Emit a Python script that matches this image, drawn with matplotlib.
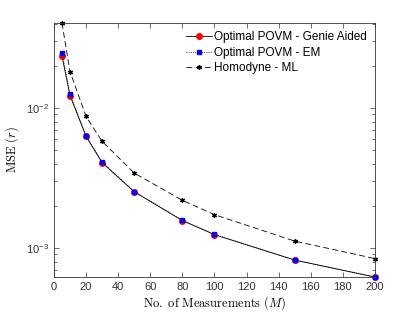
import numpy as np
import matplotlib
matplotlib.use("Agg")
import matplotlib.pyplot as plt
from matplotlib.ticker import LogLocator, NullFormatter

# ---------------- DATA ---------------- #
M = [5, 10, 20, 30, 50, 80, 100, 150, 200]
mse_genie = [0.0235, 0.01225, 0.00627, 0.00407, 0.00252, 0.00157, 0.001245, 0.00082, 0.00062]
mse_em = [0.0249, 0.0126, 0.00632, 0.00412, 0.00253, 0.00158, 0.00125, 0.00082, 0.00062]
mse_homodyne = [0.0404, 0.0182, 0.0087, 0.00578, 0.00343, 0.00219, 0.00173, 0.00112, 0.00084]

labels = ["Optimal POVM - Genie Aided", "Optimal POVM - EM", "Homodyne - ML"]

plt.rcParams["font.family"] = ["Liberation Sans", "DejaVu Sans"]
plt.rcParams["mathtext.fontset"] = "cm"

# ---------------- PLOT ---------------- #
fig = plt.figure(figsize=(4.15, 3.12), dpi=100)
ax = fig.add_axes([0.130, 0.112, 0.7736, 0.814])

ax.semilogy(M, mse_genie, "-", color="black", lw=0.6, clip_on=False,
            marker="o", ms=4, mfc="red", mec="red", label=labels[0])
ax.semilogy(M, mse_em, ":", color="black", lw=0.6, clip_on=False,
            marker="s", ms=3, mfc="blue", mec="blue", label=labels[1])
ax.semilogy(M, mse_homodyne, "--", color="black", lw=0.6, dashes=(7, 4), clip_on=False,
            marker=(6, 2, 0), ms=3.5, mew=0.9, mfc="black", mec="black", label=labels[2])

ax.set_xlim(0, 200)
ax.set_ylim(6.2e-4, 0.0404)
ax.set_xticks(np.arange(0, 201, 20))

ax.yaxis.set_major_locator(LogLocator(base=10))
ax.yaxis.set_minor_locator(LogLocator(base=10, subs=np.arange(2, 10)))
ax.yaxis.set_minor_formatter(NullFormatter())

ax.tick_params(which="both", direction="in", top=True, right=True,
               labelsize=8, colors="#333333", width=0.5)
ax.tick_params(which="major", length=3.5)
ax.tick_params(which="minor", length=2)
for s in ax.spines.values():
    s.set_linewidth(0.6)
    s.set_color("#333333")

ax.set_xlabel(r"$\mathrm{No.\ of\ Measurements}\ (M)$", fontsize=9, labelpad=2)
ax.set_ylabel(r"$\mathrm{MSE}\ (r)$", fontsize=9, labelpad=4)

leg = ax.legend(loc="upper right", fontsize=8.5, frameon=False,
                handlelength=2.2, handletextpad=0.2, labelspacing=0.3,
                borderaxespad=0.3)

fig.savefig("out.png", dpi=100)
